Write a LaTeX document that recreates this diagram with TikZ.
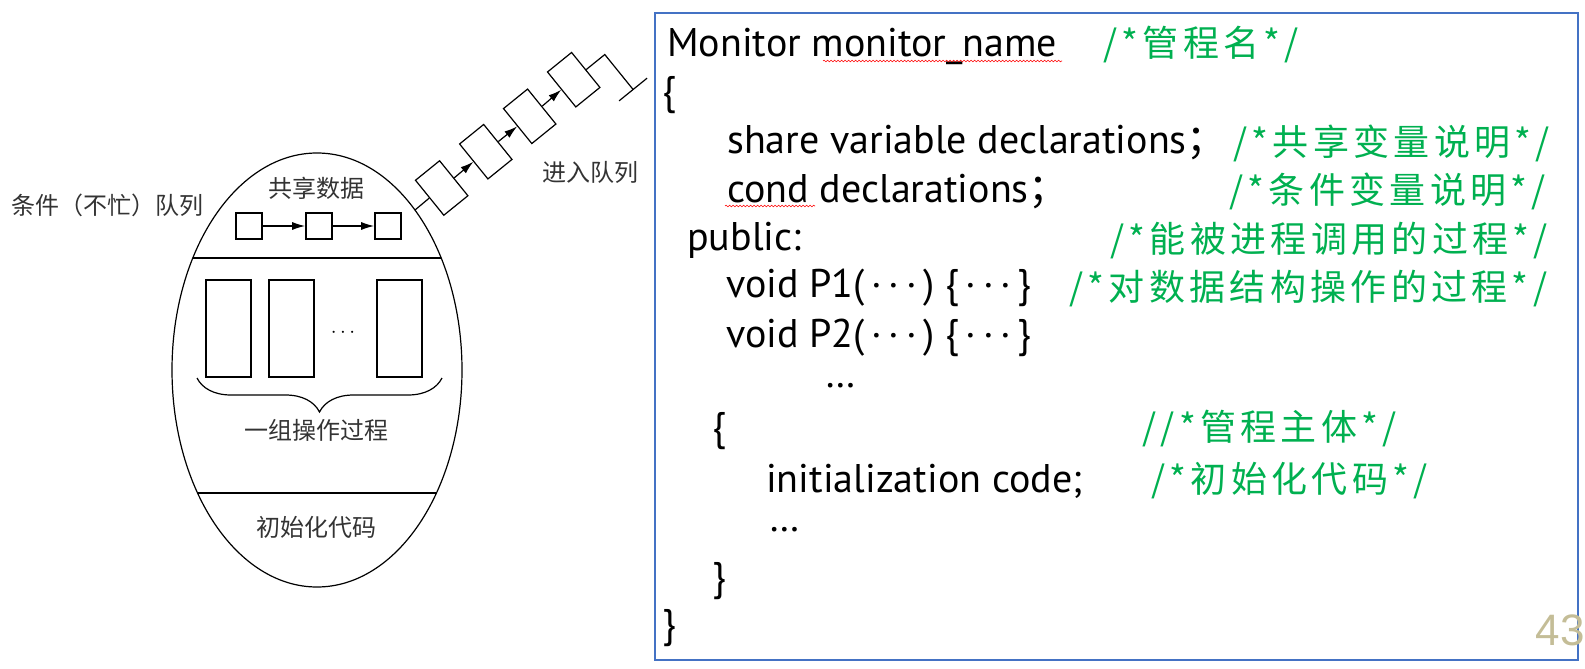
\documentclass[tikz,border=0pt]{standalone}
\usepackage{fontspec}
\setmainfont{PT Sans}
\newfontfamily\cjk{Noto Sans CJK SC}
\newfontfamily\cjkgreen{Noto Sans CJK SC}[LetterSpace=12]
\newfontfamily\numfont{Liberation Sans}
\usepackage{tikz}
\usetikzlibrary{positioning,calc,arrows.meta,decorations.pathreplacing,decorations.pathmorphing}

\definecolor{cmtgreen}{HTML}{00B050}
\definecolor{boxblue}{HTML}{4472C4}
\definecolor{pagetan}{HTML}{C4BD97}

\newcommand{\dotsmid}{\,·\,·\,·\,}

\tikzset{
  lbl/.style={inner sep=0pt, text=black!80, font=\cjk\fontsize{24}{26}\selectfont},
  code/.style={anchor=base west, inner sep=0pt, font=\fontsize{40}{42}\selectfont},
  cmt/.style={anchor=base west, inner sep=0pt, text=cmtgreen, font=\cjkgreen\fontsize{36}{38}\selectfont},
  qbox/.style={draw, line width=1.2pt, rotate=39, minimum width=31pt, minimum height=45pt, inner sep=0pt},
  dbox/.style={draw, line width=1.6pt, minimum size=26pt, inner sep=0pt},
  pbox/.style={draw, line width=1.6pt, minimum width=45pt, minimum height=97pt, inner sep=0pt},
  qarrow/.style={line width=1.2pt, -{Latex[length=13pt,width=8pt]}},
  spell/.style={draw=red, line width=0.6pt, decorate, decoration={snake, amplitude=0.8pt, segment length=3.5pt}},
}

\begin{document}
\begin{tikzpicture}[x=1pt,y=-1pt]
\useasboundingbox (0,0) rectangle (1585,669);
\def\monitorshape{(317,370) ellipse [x radius=145pt, y radius=217pt]}
  \begin{scope}
    \clip \monitorshape;
    \draw[line width=1.8pt] (150,258) -- (480,258);
    \draw[line width=1.8pt] (150,493) -- (480,493);
  \end{scope}
  \draw[line width=1.2pt] \monitorshape;

% shared data
  \node[lbl] (shared) at (316,188) {共享数据};
  \node[dbox] (d1) at (249,226) {};
  \node[dbox] (d2) at (319,226) {};
  \node[dbox] (d3) at (388,226) {};
  \draw[qarrow] (d1) -- (d2);
  \draw[qarrow] (d2) -- (d3);

% procedures
  \node[pbox] (p1) at (228.5,328.5) {};
  \node[pbox] (p2) at (291.5,328.5) {};
  \node[pbox] (p3) at (399.5,328.5) {};
  \node[inner sep=0pt, font=\fontsize{20}{20}\selectfont] (pdots) at (343,333) {$\cdots$};
  \draw[line width=1.2pt, decorate, decoration={brace, mirror, amplitude=34pt, aspect=0.5}] (197,378) -- (442,378);
  \node[lbl] (ops) at (316,430) {一组操作过程};
  \node[lbl] (init) at (316.5,527) {初始化代码};
  \node[lbl] (condq) at (107.5,205) {条件（不忙）队列};

% entry queue
  \coordinate (qin) at (415,210);
  \node[qbox] (q1) at (441.7,188) {};
  \node[qbox] (q2) at (485.8,151.7) {};
  \node[qbox] (q3) at (529.7,116.3) {};
  \node[qbox] (q4) at (573.7,79.7) {};
  \draw[line width=1.2pt] (qin) -- (q1.west);
  \draw[qarrow] (q1.east) -- (q2.west);
  \draw[qarrow] (q2.east) -- (q3.west);
  \draw[qarrow] (q3.east) -- (q4.west);
  \coordinate (tailp) at ($(q4.center)+(39:40pt)$);
  \coordinate (tailq) at ($(tailp)+(-51:45pt)$);
  \draw[line width=1.2pt] (q4.east) -- (tailp) -- (tailq);
  \draw[line width=1.2pt] ($(tailq)+(39:18pt)$) -- ($(tailq)+(219:18pt)$);
  \node[lbl] (enterq) at (590,172) {进入队列};

% code box
  \draw[boxblue, line width=1.5pt] (655,13) rectangle (1578,660);
  \node[code] (l1) at (667,57) {Monitor monitor\_name};
  \node[cmt] (c1) at (1103,57) {/*管程名*/};
  \node[code] (l2) at (662,104) {\{};
  \node[code] (l3) at (727,153) {share variable declarations{\cjk ；}};
  \node[cmt] (c3) at (1233,155) {/*共享变量说明*/};
  \node[code] (l4) at (727,202) {cond declarations{\cjk ；}};
  \node[cmt] (c4) at (1229,203) {/*条件变量说明*/};
  \node[code] (l5) at (687,250) {public:};
  \node[cmt] (c5) at (1110,252) {/*能被进程调用的过程*/};
  \node[code] (l6) at (726,297) {void P1(\dotsmid) \{\dotsmid\}};
  \node[cmt] (c6) at (1069,300) {/*对数据结构操作的过程*/};
  \node[code] (l7) at (726,347) {void P2(\dotsmid) \{\dotsmid\}};
  \node[code] (l8) at (825,387) {…};
  \node[code] (l9) at (712,440) {\{};
  \node[cmt] (c9) at (1142,440) {//*管程主体*/};
  \node[code] (l10) at (766,492) {initialization code;};
  \node[cmt] (c10) at (1151,492) {/*初始化代码*/};
  \node[code] (l11) at (769,531) {…};
  \node[code] (l12) at (712,590) {\}};
  \node[code] (l13) at (662,637) {\}};
  \draw[spell] (823,61) -- (1062,61);
  \draw[spell] (725,206) -- (815,206);
  \node[anchor=east, inner sep=0pt, text=pagetan, font=\numfont\fontsize{44}{44}\selectfont] (pagenum) at (1585,630) {43};
\end{tikzpicture}
\end{document}
